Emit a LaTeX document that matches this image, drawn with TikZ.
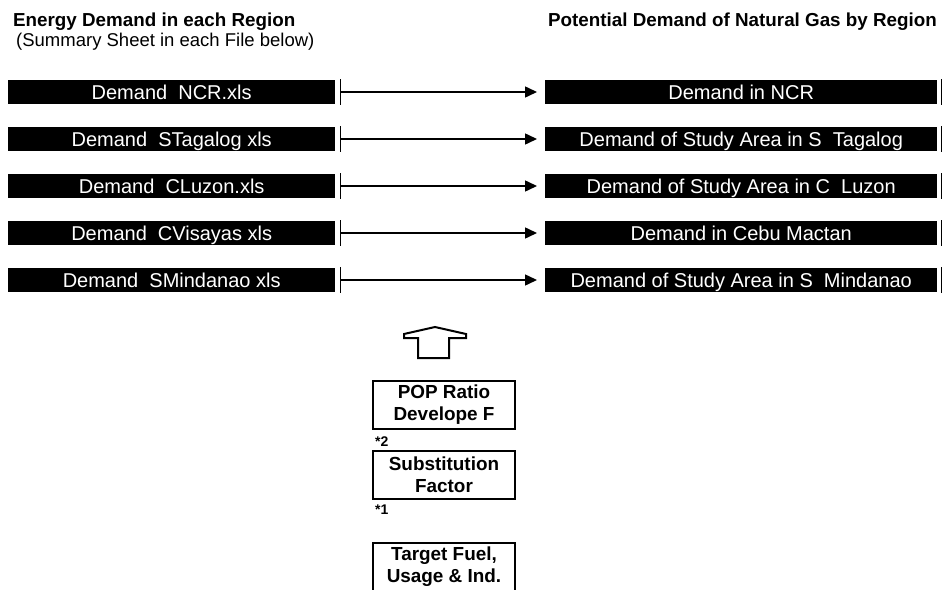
\documentclass[tikz,border=0pt]{standalone}
\usepackage{fontspec}
\setmainfont{Liberation Sans}
\usetikzlibrary{arrows.meta}
\begin{document}
\begin{tikzpicture}[x=1pt,y=-1pt,
  srcbar/.style={rectangle, fill=black, text=white, minimum width=327pt, minimum height=24pt,
    inner sep=0pt, anchor=west, text height=16pt, text depth=2pt,
    font=\fontsize{20}{24}\selectfont},
  dstbar/.style={srcbar, minimum width=392pt},
  tickmark/.style={line width=1.8pt},
  flow/.style={line width=1.5pt, -{Triangle[length=12pt,width=11pt]}, shorten >=8pt},
  heading/.style={anchor=base west, inner sep=0pt, font=\fontsize{18.8}{22}\selectfont\bfseries},
  subheading/.style={anchor=base west, inner sep=0pt, font=\fontsize{18.5}{22}\selectfont},
  factorbox/.style={draw, line width=2.2pt, minimum width=142pt, minimum height=48pt,
    inner sep=0pt, align=center, font=\fontsize{18.9}{22}\selectfont\bfseries},
  starnote/.style={anchor=base west, inner sep=0pt, font=\fontsize{14}{16}\selectfont\bfseries},
  hollowarrow/.style={line width=2pt, line join=miter}
]
\useasboundingbox[fill=white] (0,0) rectangle (942,589);

% column headings
\node[heading] (lt) at (13,26) {Energy Demand in each Region};
\node[subheading] (st) at (16,46) {(Summary Sheet in each File below)};
\node[heading] (rt) at (548,26) {Potential Demand of Natural Gas by Region};

% source workbooks
\node[srcbar] (s1) at (8,92)  {Demand~ NCR.xls};
\node[srcbar] (s2) at (8,139) {Demand~ STagalog xls};
\node[srcbar] (s3) at (8,186) {Demand~ CLuzon.xls};
\node[srcbar] (s4) at (8,233) {Demand~ CVisayas xls};
\node[srcbar] (s5) at (8,280) {Demand~ SMindanao xls};

% regional gas demand
\node[dstbar] (d1) at (545,92)  {Demand in NCR};
\node[dstbar] (d2) at (545,139) {Demand of Study Area in S~ Tagalog};
\node[dstbar] (d3) at (545,186) {Demand of Study Area in C~ Luzon};
\node[dstbar] (d4) at (545,233) {Demand in Cebu Mactan};
\node[dstbar] (d5) at (545,280) {Demand of Study Area in S~ Mindanao};

% end marks and connectors
\foreach \i in {1,...,5} {
  \coordinate (t\i) at ([xshift=5pt]s\i.east);
  \coordinate (e\i) at ([xshift=4pt]d\i.east);
  \draw[tickmark] ([yshift=13pt]t\i) -- ([yshift=-13pt]t\i);
  \draw[tickmark] ([yshift=13pt]e\i) -- ([yshift=-13pt]e\i);
  \draw[flow] (t\i) -- (d\i.west);
}

% hollow upward arrow
\draw[hollowarrow] (418,358) -- (418,338) -- (404,338) -- (404,334) -- (435,327)
  -- (466,334) -- (466,338) -- (449,338) -- (449,358) -- cycle;

% factor boxes
\node[factorbox] (pop) at (444,405) {POP Ratio\\Develope F};
\node[factorbox] (sub) at (444,475) {Substitution\\Factor};
\node[factorbox] (tgt) at (444,567) {Target Fuel,\\Usage \& Ind.};
\node[starnote] (n2) at (375,446) {*2};
\node[starnote] (n1) at (375,514) {*1};
\end{tikzpicture}
\end{document}
